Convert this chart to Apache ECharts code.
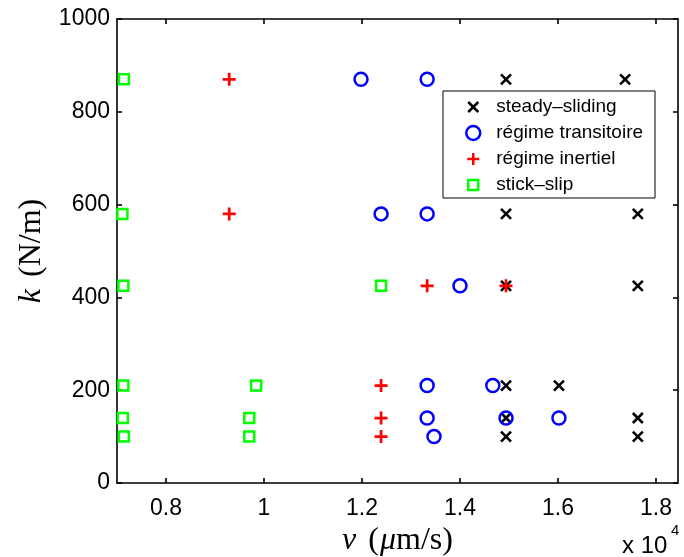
<!DOCTYPE html>
<html>
<head>
<meta charset="utf-8">
<script src="https://cdn.jsdelivr.net/npm/echarts@6/dist/echarts.min.js"></script>
<style>html,body{margin:0;padding:0;background:#fff}#c{width:684px;height:557px}</style>
</head>
<body>
<div id="c"></div>
<script>
// velocities in µm/s, stiffness in N/m
const steadySliding = [[14940,870],[17370,870],[14940,580],[17630,580],[14940,425],[17630,425],[14940,210],[16020,210],[14940,140],[17630,140],[14940,100],[17630,100]];
const regimeTransitoire = [[11980,870],[13330,870],[12390,580],[13330,580],[14000,425],[13330,210],[14670,210],[13330,140],[14940,140],[16020,140],[13470,100]];
const regimeInertiel = [[9290,870],[9290,580],[13330,425],[14940,425],[12390,210],[12390,140],[12390,100]];
const stickSlip = [[7140,870],[7110,580],[7130,425],[12390,425],[7130,210],[9840,210],[7120,140],[9700,140],[7140,100],[9700,100]];
const seriesNames = ['steady\u2013sliding','régime transitoire','régime inertiel','stick\u2013slip'];
const xTicks = [8000,10000,12000,14000,16000,18000];
const yTicks = [0,200,400,600,800,1000];

const chart = echarts.init(document.getElementById('c'), null, {renderer:'canvas'});
const sans = 'Liberation Sans, Arial, sans-serif';
const tickFont = {fontFamily:sans, fontSize:23, color:'#000'};
const axisLineStyle = {color:'#000', width:1.6};
const serif = 'Liberation Serif, Times New Roman, serif';
const crossPath = 'path://M0,0L10,10M0,10L10,0';
const plusPath = 'path://M0,5L10,5M5,0L5,10';

chart.setOption({
  animation:false,
  backgroundColor:'#fff',
  grid:{left:117, right:6, top:19, bottom:74, outerBoundsMode:'none', containLabel:false},
  legend:{
    orient:'vertical', left:443, top:91,
    padding:[6,12,3,22], itemGap:6, itemWidth:14, itemHeight:14,
    borderColor:'#000', borderWidth:1, backgroundColor:'#fff',
    itemStyle:{borderWidth:2.5},
    data:[
      {name:seriesNames[0], icon:'path://M0,0M14,14M2,2L12,12M2,12L12,2'},
      {name:seriesNames[1], icon:'circle'},
      {name:seriesNames[2], icon:'path://M0,0M14,14M1,7L13,7M7,1L7,13'},
      {name:seriesNames[3], icon:'path://M0,0M14,14M2,2L12,2L12,12L2,12Z'}
    ],
    textStyle:{fontFamily:sans, fontSize:19, lineHeight:20, color:'#000', padding:[0,0,0,11]}
  },
  xAxis:[{
    type:'value', min:7000, max:18450, position:'bottom',
    axisLine:{onZero:false, lineStyle:axisLineStyle},
    axisTick:{inside:true, length:5, lineStyle:axisLineStyle, customValues:xTicks},
    axisLabel:Object.assign({margin:14, customValues:xTicks, formatter:v=>String(v/10000)}, tickFont),
    splitLine:{show:false},
    name:'{v|v}{n|(}{u|μ}{m|m/s)}', nameLocation:'middle', nameGap:38,
    nameTextStyle:{rich:{
      v:{fontFamily:serif, fontStyle:'italic', fontSize:32, padding:[0,12,0,0]},
      n:{fontFamily:serif, fontSize:32, padding:[0,1,0,0]},
      u:{fontFamily:serif, fontStyle:'italic', fontSize:32},
      m:{fontFamily:serif, fontSize:32}}}
  },{
    type:'value', min:7000, max:18450, position:'top',
    axisLine:{onZero:false, lineStyle:axisLineStyle},
    axisTick:{inside:true, length:5, lineStyle:axisLineStyle, customValues:xTicks},
    axisLabel:{show:false}, splitLine:{show:false}
  }],
  yAxis:[{
    type:'value', min:0, max:1000, interval:200, position:'left',
    axisLine:{show:true, onZero:false, lineStyle:axisLineStyle},
    axisTick:{show:true, inside:true, length:5, lineStyle:axisLineStyle, customValues:yTicks},
    axisLabel:Object.assign({margin:7, customValues:yTicks, formatter:v=>String(v)}, tickFont),
    splitLine:{show:false},
    name:'{i|k}{n|(N/m)}', nameLocation:'middle', nameGap:64, nameRotate:90,
    nameTextStyle:{rich:{i:{fontFamily:serif, fontStyle:'italic', fontSize:32, padding:[0,12,0,0]}, n:{fontFamily:serif, fontSize:32}}}
  },{
    type:'value', min:0, max:1000, interval:200, position:'right',
    axisLine:{show:true, onZero:false, lineStyle:axisLineStyle},
    axisTick:{show:true, inside:true, length:5, lineStyle:axisLineStyle},
    axisLabel:{show:false}, splitLine:{show:false}
  }],
  graphic:[
    {type:'text', left:622, top:534, style:{text:'x 10', fontFamily:sans, fontSize:24, fill:'#000'}},
    {type:'text', left:671, top:523, style:{text:'4', fontFamily:sans, fontSize:15, fill:'#000'}}
  ],
  series:[
    {name:seriesNames[0], type:'scatter', data:steadySliding, symbol:crossPath, symbolSize:10,
     itemStyle:{color:'#000', borderColor:'#000', borderWidth:2.6, opacity:1}},
    {name:seriesNames[1], type:'scatter', data:regimeTransitoire, symbol:'circle', symbolSize:13,
     itemStyle:{color:'rgba(0,0,0,0)', borderColor:'#0000ff', borderWidth:2.5, opacity:1}},
    {name:seriesNames[2], type:'scatter', data:regimeInertiel, symbol:plusPath, symbolSize:13,
     itemStyle:{color:'#ff0000', borderColor:'#ff0000', borderWidth:2.7, opacity:1}},
    {name:seriesNames[3], type:'scatter', data:stickSlip, symbol:'rect', symbolSize:10,
     itemStyle:{color:'rgba(0,0,0,0)', borderColor:'#00ff00', borderWidth:2.5, opacity:1}}
  ]
});
</script>
</body>
</html>
